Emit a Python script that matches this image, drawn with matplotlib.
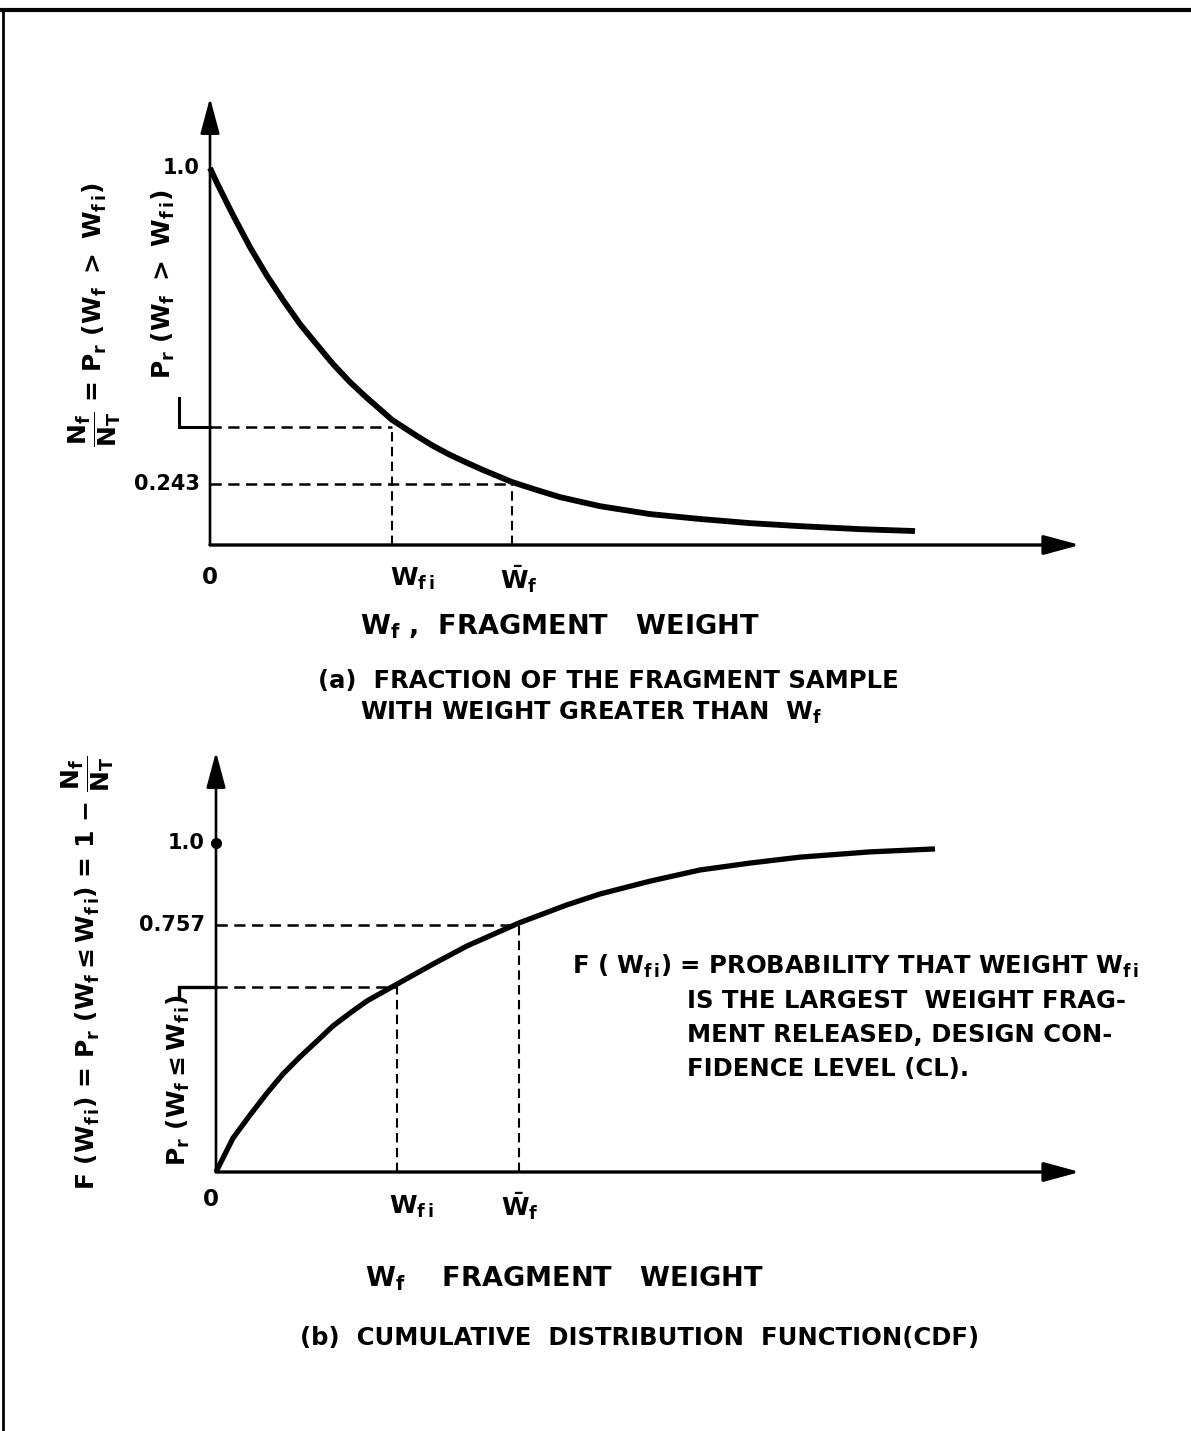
import matplotlib
matplotlib.use("Agg")
import matplotlib.pyplot as plt
from matplotlib.lines import Line2D

plt.rcParams["font.family"] = ["DejaVu Sans"]
plt.rcParams["font.weight"] = "bold"
plt.rcParams["mathtext.fontset"] = "custom"
plt.rcParams["mathtext.rm"] = "DejaVu Sans:bold"
plt.rcParams["mathtext.it"] = "DejaVu Sans:bold"
plt.rcParams["mathtext.bf"] = "DejaVu Sans:bold"
plt.rcParams["mathtext.default"] = "rm"

W, H = 1191, 1431

# ---------------- data (schematic values) ----------------
# (a) exceedance fraction  Nf/NT = Pr(Wf > Wfi)
top_x = [0.00, 0.07, 0.23, 0.40, 0.57, 0.73, 0.90, 1.07, 1.23, 1.40, 1.57, 1.73, 1.82, 2.07,
         2.23, 2.40, 2.57, 2.73, 3.02, 3.23, 3.50, 3.90, 4.40, 4.90, 5.40, 5.90, 6.50, 7.05]
top_y = [1.000, 0.960, 0.875, 0.790, 0.714, 0.650, 0.586, 0.531, 0.480, 0.432, 0.390, 0.353,
         0.332, 0.289, 0.263, 0.239, 0.218, 0.199, 0.167, 0.149, 0.127, 0.103, 0.082, 0.069,
         0.058, 0.050, 0.042, 0.037]
top_wfi_x, top_wfi_level = 1.82, 0.313
top_wbar_x, top_wbar_level = 3.02, 0.162
top_tick_vals = [1.0, 0.162]
top_tick_labels = ["1.0", "0.243"]

# (b) cumulative distribution function
bot_x = [0.00, 0.17, 0.34, 0.51, 0.67, 0.84, 1.01, 1.17, 1.34, 1.51, 1.81, 2.17, 2.51, 3.03,
         3.51, 3.84, 4.34, 4.84, 5.34, 5.84, 6.54, 7.19]
bot_y = [0.000, 0.103, 0.173, 0.240, 0.298, 0.350, 0.398, 0.444, 0.483, 0.520, 0.571, 0.632,
         0.687, 0.757, 0.812, 0.845, 0.884, 0.918, 0.939, 0.957, 0.973, 0.982]
bot_wfi_x, bot_wfi_level = 1.81, 0.562
bot_wbar_x, bot_wbar_level = 3.03, 0.751
bot_tick_vals = [1.0, 0.751]
bot_tick_labels = ["1.0", "0.757"]

x_labels = ["0", r"$W_{f\,i}$", r"$\bar{W}_{f}$"]

# ---------------- figure ----------------
fig = plt.figure(figsize=(W / 100, H / 100), dpi=100)
fig.patch.set_facecolor("white")


def P(px, py):
    return px / W, 1 - py / H


# page border (top and left)
fig.add_artist(Line2D([0, 1], [1 - 10 / H, 1 - 10 / H], color="black", lw=3,
                      transform=fig.transFigure))
fig.add_artist(Line2D([3 / W, 3 / W], [0, 1 - 10 / H], color="black", lw=2,
                      transform=fig.transFigure))

FS = 17.5
AFS = 19.5
TFS = 15
ZFS = 16.5
LFS = 18
dash = (0, (4.5, 2.6))


def make_axes(left_px, axis_py, right_px, top_py, unit_y):
    ax = fig.add_axes([left_px / W, 1 - axis_py / H, (right_px - left_px) / W,
                       (axis_py - top_py) / H])
    ax.set_xlim(0, (right_px - left_px) / 100)
    ax.set_ylim(0, (axis_py - top_py) / unit_y)
    ax.axis("off")
    xmax = ax.get_xlim()[1]
    ymax = ax.get_ylim()[1]
    ax.annotate("", xy=(xmax, 0), xytext=(0, 0),
                arrowprops=dict(arrowstyle="-|>,head_length=1.0,head_width=0.27",
                                lw=2.4, color="black", shrinkA=0, shrinkB=0,
                                mutation_scale=22), annotation_clip=False)
    ax.annotate("", xy=(0, ymax), xytext=(0, 0),
                arrowprops=dict(arrowstyle="-|>,head_length=1.0,head_width=0.27",
                                lw=1.9, color="black", shrinkA=0, shrinkB=0,
                                mutation_scale=22), annotation_clip=False)
    return ax


# ================= (a) =================
ax1 = make_axes(210, 545, 1080, 98, 377)
ax1.plot(top_x, top_y, color="black", lw=4.2, solid_capstyle="butt", clip_on=False)
ax1.plot([0, top_wfi_x], [top_wfi_level] * 2, color="black", lw=1.8, linestyle=dash)
ax1.plot([top_wfi_x] * 2, [0, top_wfi_level], color="black", lw=1.5, linestyle=dash)
ax1.plot([0, top_wbar_x], [top_wbar_level] * 2, color="black", lw=1.8, linestyle=dash)
ax1.plot([top_wbar_x] * 2, [0, top_wbar_level], color="black", lw=1.5, linestyle=dash)
# bracket joining the inner label to its level
ax1.plot([-0.31, -0.31, 0], [0.39, top_wfi_level, top_wfi_level], color="black", lw=2.2,
         clip_on=False, solid_joinstyle="miter")
for v, s in zip(top_tick_vals, top_tick_labels):
    ax1.text(-0.1, v, s, ha="right", va="center", fontsize=TFS)
ax1.text(0, -0.085, x_labels[0], ha="center", va="center", fontsize=ZFS)
ax1.text(top_wfi_x - 0.02, -0.09, x_labels[1], ha="left", va="center", fontsize=LFS)
ax1.text(top_wbar_x - 0.12, -0.09, x_labels[2], ha="left", va="center", fontsize=LFS)

fig.text(*P(163, 284), r"$P_r\ (W_f\ >\ W_{f\,i})$", rotation=90, ha="center", va="center",
         fontsize=LFS)
fig.text(*P(95, 315), r"$\dfrac{N_f}{N_T}$ = $P_r\ (W_f\ >\ W_{f\,i})$", rotation=90,
         ha="center", va="center", fontsize=LFS)

fig.text(*P(360, 627), r"$W_f$ ,  FRAGMENT   WEIGHT", ha="left", va="center", fontsize=AFS)
fig.text(*P(318, 681), "(a)  FRACTION OF THE FRAGMENT SAMPLE", ha="left", va="center",
         fontsize=FS)
fig.text(*P(360, 713), "WITH WEIGHT GREATER THAN  $W_f$", ha="left", va="center",
         fontsize=FS)

# ================= (b) =================
ax2 = make_axes(216, 1172, 1080, 752, 329)
ax2.plot(bot_x, bot_y, color="black", lw=3.8, solid_capstyle="butt", clip_on=False)
ax2.plot([0, bot_wfi_x], [bot_wfi_level] * 2, color="black", lw=1.8, linestyle=dash)
ax2.plot([bot_wfi_x] * 2, [0, bot_wfi_level], color="black", lw=1.5, linestyle=dash)
ax2.plot([0, bot_wbar_x], [bot_wbar_level] * 2, color="black", lw=1.8, linestyle=dash)
ax2.plot([bot_wbar_x] * 2, [0, bot_wbar_level], color="black", lw=1.5, linestyle=dash)
ax2.plot([-0.37, -0.37, 0], [bot_wfi_level - 0.035, bot_wfi_level, bot_wfi_level],
         color="black", lw=2.4, clip_on=False, solid_joinstyle="miter")
ax2.plot([0], [1.0], marker="o", markersize=7, color="black", clip_on=False)
for v, s in zip(bot_tick_vals, bot_tick_labels):
    ax2.text(-0.11, v, s, ha="right", va="center", fontsize=TFS)
ax2.text(-0.05, -0.085, x_labels[0], ha="center", va="center", fontsize=ZFS)
ax2.text(bot_wfi_x - 0.08, -0.105, x_labels[1], ha="left", va="center", fontsize=LFS)
ax2.text(bot_wbar_x - 0.18, -0.105, x_labels[2], ha="left", va="center", fontsize=LFS)

fig.text(*P(178, 1080), r"$P_r\ (W_f \leq W_{f\,i})$", rotation=90, ha="center",
         va="center", fontsize=LFS)
fig.text(*P(88, 973),
         r"F $(W_{f\,i})$ = $P_r\ (W_f \leq W_{f\,i})$ = 1 $-$ $\dfrac{N_f}{N_T}$",
         rotation=90, ha="center", va="center", fontsize=LFS)

fig.text(*P(572, 966), r"F ( $W_{f\,i}$) = PROBABILITY THAT WEIGHT $W_{f\,i}$", ha="left",
         va="center", fontsize=FS)
ann_lines = ["IS THE LARGEST  WEIGHT FRAG-", "MENT RELEASED, DESIGN CON-",
             "FIDENCE LEVEL (CL)."]
for i, s in enumerate(ann_lines):
    fig.text(*P(687, 1001 + 34 * i), s, ha="left", va="center", fontsize=FS)

fig.text(*P(365, 1279), r"$W_f$    FRAGMENT   WEIGHT", ha="left", va="center", fontsize=AFS)
fig.text(*P(300, 1338), "(b)  CUMULATIVE  DISTRIBUTION  FUNCTION(CDF)", ha="left",
         va="center", fontsize=FS)

fig.savefig("out.png", dpi=100, facecolor="white")
